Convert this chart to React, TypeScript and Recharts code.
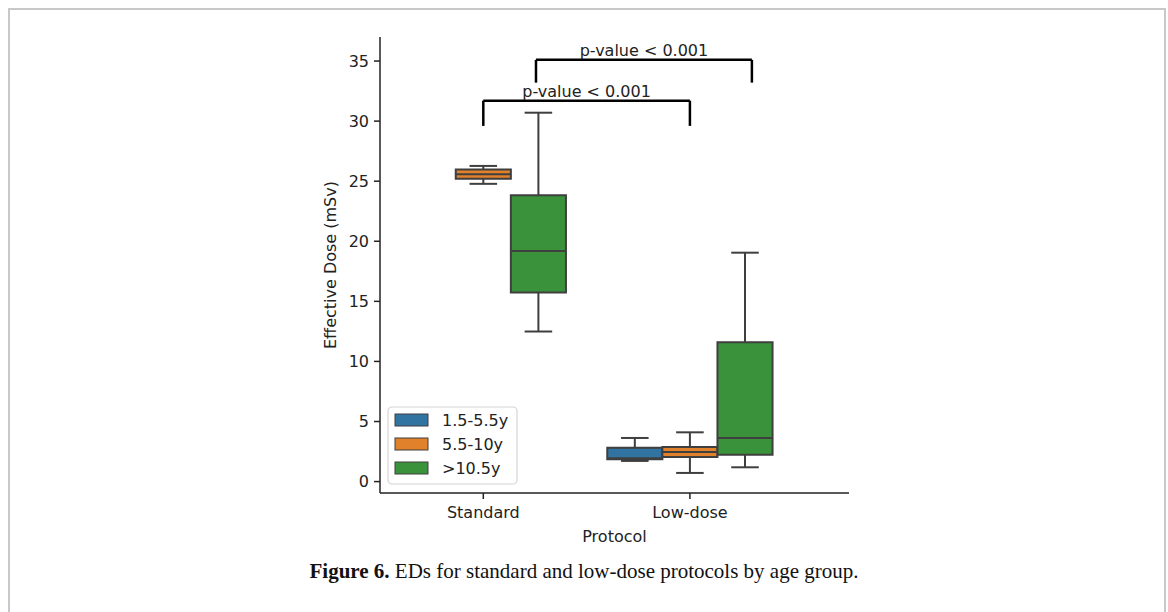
import React from 'react';
import { ComposedChart, XAxis, YAxis, ReferenceArea, ReferenceLine } from 'recharts';

const categories = ['Standard', 'Low-dose'];
const groups = ['1.5-5.5y', '5.5-10y', '>10.5y'];
const groupColors = ['#3274a1', '#e1812c', '#3a923a'];
// values indexed [group][category]
const whiskerLow: (number | null)[][] = [[null, 1.72], [24.78, 0.72], [12.49, 1.19]];
const quartile1: (number | null)[][] = [[null, 1.85], [25.2, 2.05], [15.73, 2.24]];
const medians: (number | null)[][] = [[null, 1.95], [25.58, 2.46], [19.19, 3.63]];
const quartile3: (number | null)[][] = [[null, 2.82], [25.97, 2.88], [23.84, 11.6]];
const whiskerHigh: (number | null)[][] = [[null, 3.63], [26.27, 4.1], [30.7, 19.05]];
const yTicks = [0, 5, 10, 15, 20, 25, 30, 35];

// significance brackets
const bracketStart = [0.0, 0.255];
const bracketEnd = [1.0, 1.3];
const bracketLeg = [29.6, 33.2];
const bracketTop = [31.7, 35.1];
const bracketLabels = ['p-value < 0.001', 'p-value < 0.001'];

const FONT = '"DejaVu Sans", sans-serif';
const EDGE = '#3f3f3f';
const SLOT = 0.8 / 3;

function LegendBox() {
  return (
    <svg width={132} height={80} style={{ display: 'block' }}>
      <rect x={1} y={1} width={129} height={77} rx={4} fill="#fff" stroke="#d4d4d4" strokeWidth={1.2} />
      {groups.map((g, i) => (
        <g key={g}>
          <rect x={8} y={8 + i * 24} width={33} height={12} fill={groupColors[i]} stroke={EDGE} strokeWidth={1} />
          <text x={55} y={14 + i * 24} dominantBaseline="central" fontFamily={FONT} fontSize={16} fill="#222">
            {g}
          </text>
        </g>
      ))}
    </svg>
  );
}

export default function App() {
  const boxes: React.ReactNode[] = [];
  groups.forEach((g, gi) => {
    categories.forEach((c, ci) => {
      const med = medians[gi][ci];
      if (med === null) return;
      const center = ci + (gi - 1) * SLOT;
      const half = SLOT / 2;
      const cap = SLOT / 4;
      const lo = whiskerLow[gi][ci] as number;
      const hi = whiskerHigh[gi][ci] as number;
      const a = quartile1[gi][ci] as number;
      const b = quartile3[gi][ci] as number;
      const key = `${gi}-${ci}`;
      boxes.push(
        <ReferenceLine key={`wl${key}`} segment={[{ x: center, y: lo }, { x: center, y: a }]} stroke={EDGE} strokeWidth={2} ifOverflow="visible" />,
        <ReferenceLine key={`wh${key}`} segment={[{ x: center, y: b }, { x: center, y: hi }]} stroke={EDGE} strokeWidth={2} ifOverflow="visible" />,
        <ReferenceLine key={`cl${key}`} segment={[{ x: center - cap, y: lo }, { x: center + cap, y: lo }]} stroke={EDGE} strokeWidth={2} ifOverflow="visible" />,
        <ReferenceLine key={`ch${key}`} segment={[{ x: center - cap, y: hi }, { x: center + cap, y: hi }]} stroke={EDGE} strokeWidth={2} ifOverflow="visible" />,
        <ReferenceArea key={`b${key}`} x1={center - half} x2={center + half} y1={a} y2={b} fill={groupColors[gi]} fillOpacity={1} stroke={EDGE} strokeWidth={2} ifOverflow="visible" />,
        <ReferenceLine key={`m${key}`} segment={[{ x: center - half, y: med }, { x: center + half, y: med }]} stroke={EDGE} strokeWidth={2} ifOverflow="visible" />
      );
    });
  });

  const brackets: React.ReactNode[] = [];
  bracketLabels.forEach((lab, i) => {
    brackets.push(
      <ReferenceLine key={`bl${i}`} segment={[{ x: bracketStart[i], y: bracketLeg[i] }, { x: bracketStart[i], y: bracketTop[i] }]} stroke="#000" strokeWidth={2.5} ifOverflow="visible" />,
      <ReferenceLine key={`br${i}`} segment={[{ x: bracketEnd[i], y: bracketLeg[i] }, { x: bracketEnd[i], y: bracketTop[i] }]} stroke="#000" strokeWidth={2.5} ifOverflow="visible" />,
      <ReferenceLine
        key={`bt${i}`}
        segment={[{ x: bracketStart[i], y: bracketTop[i] }, { x: bracketEnd[i], y: bracketTop[i] }]}
        stroke="#000"
        strokeWidth={2.5}
        ifOverflow="visible"
        label={{ value: lab, position: 'top', offset: 4, fill: '#222', fontSize: 16, fontFamily: FONT }}
      />
    );
  });

  return (
    <div style={{ position: 'absolute', left: 0, top: 0, width: 1168, height: 612, background: '#fff', overflow: 'hidden' }}>
      <div
        style={{
          position: 'absolute',
          left: 8,
          top: 8,
          width: 1154,
          height: 700,
          borderLeft: '2px solid #c8c8c8',
          borderTop: '2px solid #c8c8c8',
          borderRight: '2px solid #c8c8c8',
        }}
      />
      <div style={{ position: 'absolute', left: 0, top: 0 }}>
        <ComposedChart width={1168} height={612} margin={{ top: 37, right: 319, left: 320, bottom: 70 }}>
          <XAxis
            type="number"
            dataKey="x"
            domain={[-0.5, 1.77]}
            allowDataOverflow
            ticks={[0, 1]}
            tickFormatter={(v: number) => categories[v] ?? ''}
            height={49}
            stroke="#222"
            strokeWidth={1.5}
            tickSize={6}
            tickMargin={8}
            tick={{ fill: '#222', fontSize: 16, fontFamily: FONT }}
            label={{ value: 'Protocol', position: 'insideBottom', offset: 0, fill: '#222', fontSize: 16, fontFamily: FONT }}
          />
          <YAxis
            type="number"
            domain={[-0.95, 37]}
            allowDataOverflow
            ticks={yTicks}
            width={60}
            stroke="#222"
            strokeWidth={1.5}
            tickSize={6}
            tickMargin={5}
            tick={{ fill: '#222', fontSize: 16, fontFamily: FONT }}
            label={{
              value: 'Effective Dose (mSv)',
              angle: -90,
              position: 'insideLeft',
              offset: 10,
              style: { textAnchor: 'middle' },
              fill: '#222',
              fontSize: 16,
              fontFamily: FONT,
            }}
          />
          {boxes}
          {brackets}
        </ComposedChart>
      </div>
      <div style={{ position: 'absolute', left: 387, top: 406 }}>
        <LegendBox />
      </div>
      <div
        style={{
          position: 'absolute',
          left: 0,
          width: 1168,
          top: 559,
          textAlign: 'center',
          fontFamily: '"Liberation Serif", serif',
          fontSize: 21,
          color: '#111',
        }}
      >
        <b>Figure 6.</b> EDs for standard and low-dose protocols by age group.
      </div>
    </div>
  );
}
